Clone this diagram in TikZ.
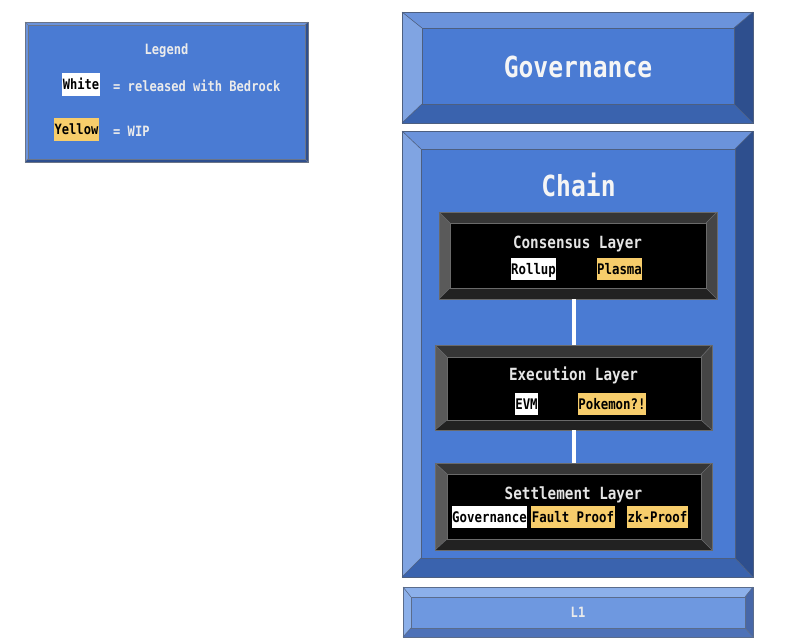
\documentclass[tikz,border=0pt]{standalone}
\usepackage{fontspec}
\newfontfamily\monofont[FakeStretch=0.85]{DejaVu Sans Mono}
\newfontfamily\monobold[FakeStretch=0.85]{DejaVu Sans Mono Bold}
% blue palette
\definecolor{blueF}{HTML}{4A7BD3}
\definecolor{blueT}{HTML}{6B93DB}
\definecolor{blueL}{HTML}{80A4E2}
\definecolor{blueR}{HTML}{2E4F8E}
\definecolor{blueB}{HTML}{3A63AE}
\definecolor{blueO}{HTML}{4D5F80}
% light blue palette (L1)
\definecolor{lightF}{HTML}{6E98E0}
\definecolor{lightT}{HTML}{8CB0EA}
\definecolor{lightL}{HTML}{8CB0EA}
\definecolor{lightR}{HTML}{4767A8}
\definecolor{lightB}{HTML}{4E72B8}
\definecolor{lightO}{HTML}{5A6C8C}
% legend palette
\definecolor{legF}{HTML}{4A7BD3}
\definecolor{legT}{HTML}{6B93DB}
\definecolor{legL}{HTML}{6B93DB}
\definecolor{legR}{HTML}{2E4F8E}
\definecolor{legB}{HTML}{2E4F8E}
\definecolor{legO}{HTML}{6A7488}
% black palette
\definecolor{blackF}{HTML}{000000}
\definecolor{blackT}{HTML}{363636}
\definecolor{blackL}{HTML}{5A5A5A}
\definecolor{blackR}{HTML}{454545}
\definecolor{blackB}{HTML}{222222}
\definecolor{blackO}{HTML}{6A6A6A}
\definecolor{wipc}{HTML}{F7CD6B}
\newcommand\usepal[1]{\colorlet{bt}{#1T}\colorlet{bl}{#1L}\colorlet{br}{#1R}\colorlet{bb}{#1B}\colorlet{bf}{#1F}\colorlet{bo}{#1O}}
\def\bevbox#1(#2,#3,#4,#5)(#6,#7,#8,#9){%
  \pgfmathsetmacro\bvXa{#2+#6}\pgfmathsetmacro\bvYa{#3+#7}%
  \pgfmathsetmacro\bvXb{#4-#8}\pgfmathsetmacro\bvYb{#5-#9}%
  \pgfmathsetmacro\bvW{#4-#2}\pgfmathsetmacro\bvH{#5-#3}%
  \pgfmathsetmacro\bvMx{(#2+#4)/2}\pgfmathsetmacro\bvMy{(#3+#5)/2}%
  \fill[bf] (\bvXa,\bvYa) rectangle (\bvXb,\bvYb);
  \fill[bt] (#2,#3) -- (#4,#3) -- (\bvXb,\bvYa) -- (\bvXa,\bvYa) -- cycle;
  \fill[bl] (#2,#3) -- (\bvXa,\bvYa) -- (\bvXa,\bvYb) -- (#2,#5) -- cycle;
  \fill[br] (#4,#3) -- (#4,#5) -- (\bvXb,\bvYb) -- (\bvXb,\bvYa) -- cycle;
  \fill[bb] (#2,#5) -- (#4,#5) -- (\bvXb,\bvYb) -- (\bvXa,\bvYb) -- cycle;
  \draw[bline] (#2,#3) rectangle (#4,#5);
  \draw[bline] (\bvXa,\bvYa) rectangle (\bvXb,\bvYb);
  \draw[bline] (#2,#3) -- (\bvXa,\bvYa) (#4,#3) -- (\bvXb,\bvYa)
               (#2,#5) -- (\bvXa,\bvYb) (#4,#5) -- (\bvXb,\bvYb);
  \node[boxnode, minimum width=\bvW pt, minimum height=\bvH pt] (#1) at (\bvMx,\bvMy) {};
}
\tikzset{
  bline/.style={draw=bo, line width=0.6pt},
  boxnode/.style={draw=none, inner sep=0pt, outer sep=0pt},
  title/.style={font=\monobold\fontsize{29}{30}\selectfont, text=white!96!black, text height=21pt, text depth=0pt, inner sep=0pt},
  layer/.style={font=\monobold\fontsize{16.8}{18}\selectfont, text=white!90!black, text height=12.2pt, text depth=0pt, inner sep=0pt},
  item/.style={font=\monobold\fontsize{14.6}{15}\selectfont, text=black, fill=white, inner xsep=0.5pt, inner ysep=0pt, text height=10.7pt, text depth=0pt, minimum height=22pt},
  wip/.style={item, fill=wipc},
  legtxt/.style={font=\monobold\fontsize{14.2}{15}\selectfont, text=white!92!black, text height=10.4pt, text depth=0pt, inner sep=0pt},
  legitem/.style={font=\monobold\fontsize{14.2}{15}\selectfont, text=black, fill=white, inner xsep=0.5pt, inner ysep=0pt, text height=10.4pt, text depth=0pt, minimum height=23pt},
  legwip/.style={legitem, fill=wipc},
  link/.style={draw=white, line width=4pt},
}
\begin{document}
\begin{tikzpicture}[x=1pt, y=-1pt]
\fill[white] (0,0) rectangle (792,641);
\useasboundingbox (0,0) rectangle (792,641);

% Legend
\usepal{leg}
\bevbox{legend}(25,22,308,162)(3,3,3,3)
\node[legtxt] (legtitle) at (166.5,49) {Legend};
\node[legitem] (legwhite) at (81,84.5) {White};
\node[legtxt, anchor=west] (legwhitetxt) at (113,86) {= released with Bedrock};
\node[legwip] (legyellow) at (76.5,129.5) {Yellow};
\node[legtxt, anchor=west] (legyellowtxt) at (113,131) {= WIP};

% Governance
\usepal{blue}
\bevbox{gov}(402,12,753,123)(20,16,19,19)
\node[title] (govtitle) at (578,67) {Governance};

% Chain
\bevbox{chain}(402,131,753,577)(19,18,18,19)
\node[title] (chaintitle) at (578.5,186) {Chain};

% L1
\usepal{light}
\bevbox{lone}(403,587,753,637)(8,10,8,9)
\node[legtxt] (lonetitle) at (578,612) {L1};

% Layers
\usepal{black}
\bevbox{cons}(439,212,717,299)(11,11,11,11)
\node[layer] (constitle) at (577.5,242) {Consensus Layer};
\node[item] (rollup) at (533.5,269) {Rollup};
\node[wip] (plasma) at (619.5,269) {Plasma};

\bevbox{exec}(435,345,712,430)(12,12,11,10)
\node[layer] (exectitle) at (573.5,374) {Execution Layer};
\node[item] (evm) at (526.5,404) {EVM};
\node[wip] (pokemon) at (612,404) {Pokemon?!};

\bevbox{sett}(435,463,712,550)(12,11,11,11)
\node[layer] (setttitle) at (573.5,493) {Settlement Layer};
\node[item] (settgov) at (489.5,517) {Governance};
\node[wip] (fault) at (573,517) {Fault Proof};
\node[wip] (zk) at (657.5,517) {zk-Proof};

% connectors
\draw[link] (exec.north |- cons.south) -- (exec.north);
\draw[link] (exec.south) -- (sett.north);
\end{tikzpicture}
\end{document}
